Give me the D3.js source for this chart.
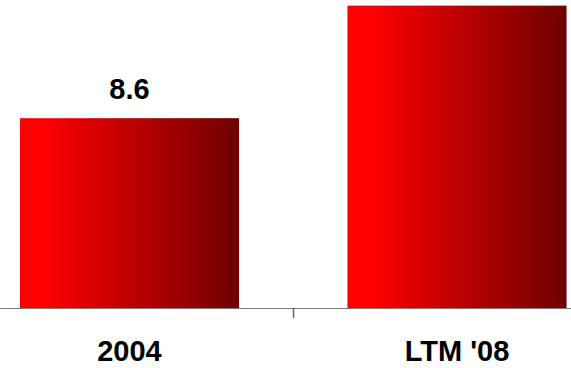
<!DOCTYPE html>
<html>
<head>
<meta charset="utf-8">
<script src="https://cdn.jsdelivr.net/npm/d3@7"></script>
<style>
  html, body { margin: 0; padding: 0; background: #fff; }
  svg { display: block; }
  text { font-family: "Liberation Sans", Arial, sans-serif; font-weight: bold; fill: #000; }
</style>
</head>
<body>
<svg id="chart" width="571" height="368"></svg>
<script>
// Periods and their values
const categories = ["2004", "LTM '08"];
const values = [8.6, 13.7];
// Only the first bar carries a printed value
const valueLabels = ["8.6", null];

const width = 571;
const baseline = 308;

const svg = d3.select("#chart");

const x = d3.scaleBand()
  .domain(categories)
  .range([-34.25, 620.75])
  .paddingInner(0.331)
  .paddingOuter(0.1655);

const y = d3.scaleLinear()
  .domain([0, 14])
  .range([baseline, -1]);

// Horizontal red-to-maroon fill for the bars
const defs = svg.append("defs");
const grad = defs.append("linearGradient")
  .attr("id", "barFill")
  .attr("x1", "0%").attr("x2", "100%")
  .attr("y1", "0%").attr("y2", "0%");
grad.append("stop").attr("offset", "0.1").attr("stop-color", "#ff0000");
grad.append("stop").attr("offset", "1").attr("stop-color", "#6e0000");

svg.append("g")
  .selectAll("rect")
  .data(categories)
  .join("rect")
  .attr("x", d => x(d))
  .attr("y", (d, i) => y(values[i]))
  .attr("width", x.bandwidth())
  .attr("height", (d, i) => baseline - y(values[i]))
  .attr("fill", "url(#barFill)");

// Value label above the bar
const labelled = categories
  .map((c, i) => ({ c, v: values[i], t: valueLabels[i] }))
  .filter(d => d.t);
svg.append("g")
  .selectAll("text")
  .data(labelled)
  .join("text")
  .attr("x", d => x(d.c) + x.bandwidth() / 2)
  .attr("y", d => y(d.v) - 19)
  .attr("text-anchor", "middle")
  .style("font-size", "29px")
  .text(d => d.t);

// Category axis: baseline line, a tick between the bands, bold labels
const axis = svg.append("g");
axis.append("line")
  .attr("x1", 0).attr("x2", width)
  .attr("y1", baseline + 0.5).attr("y2", baseline + 0.5)
  .attr("stroke", "#7a7a7a")
  .attr("stroke-width", 1);

const step = x.step();
const dividers = categories.slice(1).map(d => x(d) - x.paddingInner() * step / 2);
axis.selectAll("line.tick")
  .data(dividers)
  .join("line")
  .attr("class", "tick")
  .attr("x1", d => Math.round(d) + 0.5).attr("x2", d => Math.round(d) + 0.5)
  .attr("y1", baseline).attr("y2", baseline + 10)
  .attr("stroke", "#666")
  .attr("stroke-width", 1.5);

axis.selectAll("text")
  .data(categories)
  .join("text")
  .attr("x", d => x(d) + x.bandwidth() / 2)
  .attr("y", 361)
  .attr("text-anchor", "middle")
  .style("font-size", "29px")
  .text(d => d);
</script>
</body>
</html>
